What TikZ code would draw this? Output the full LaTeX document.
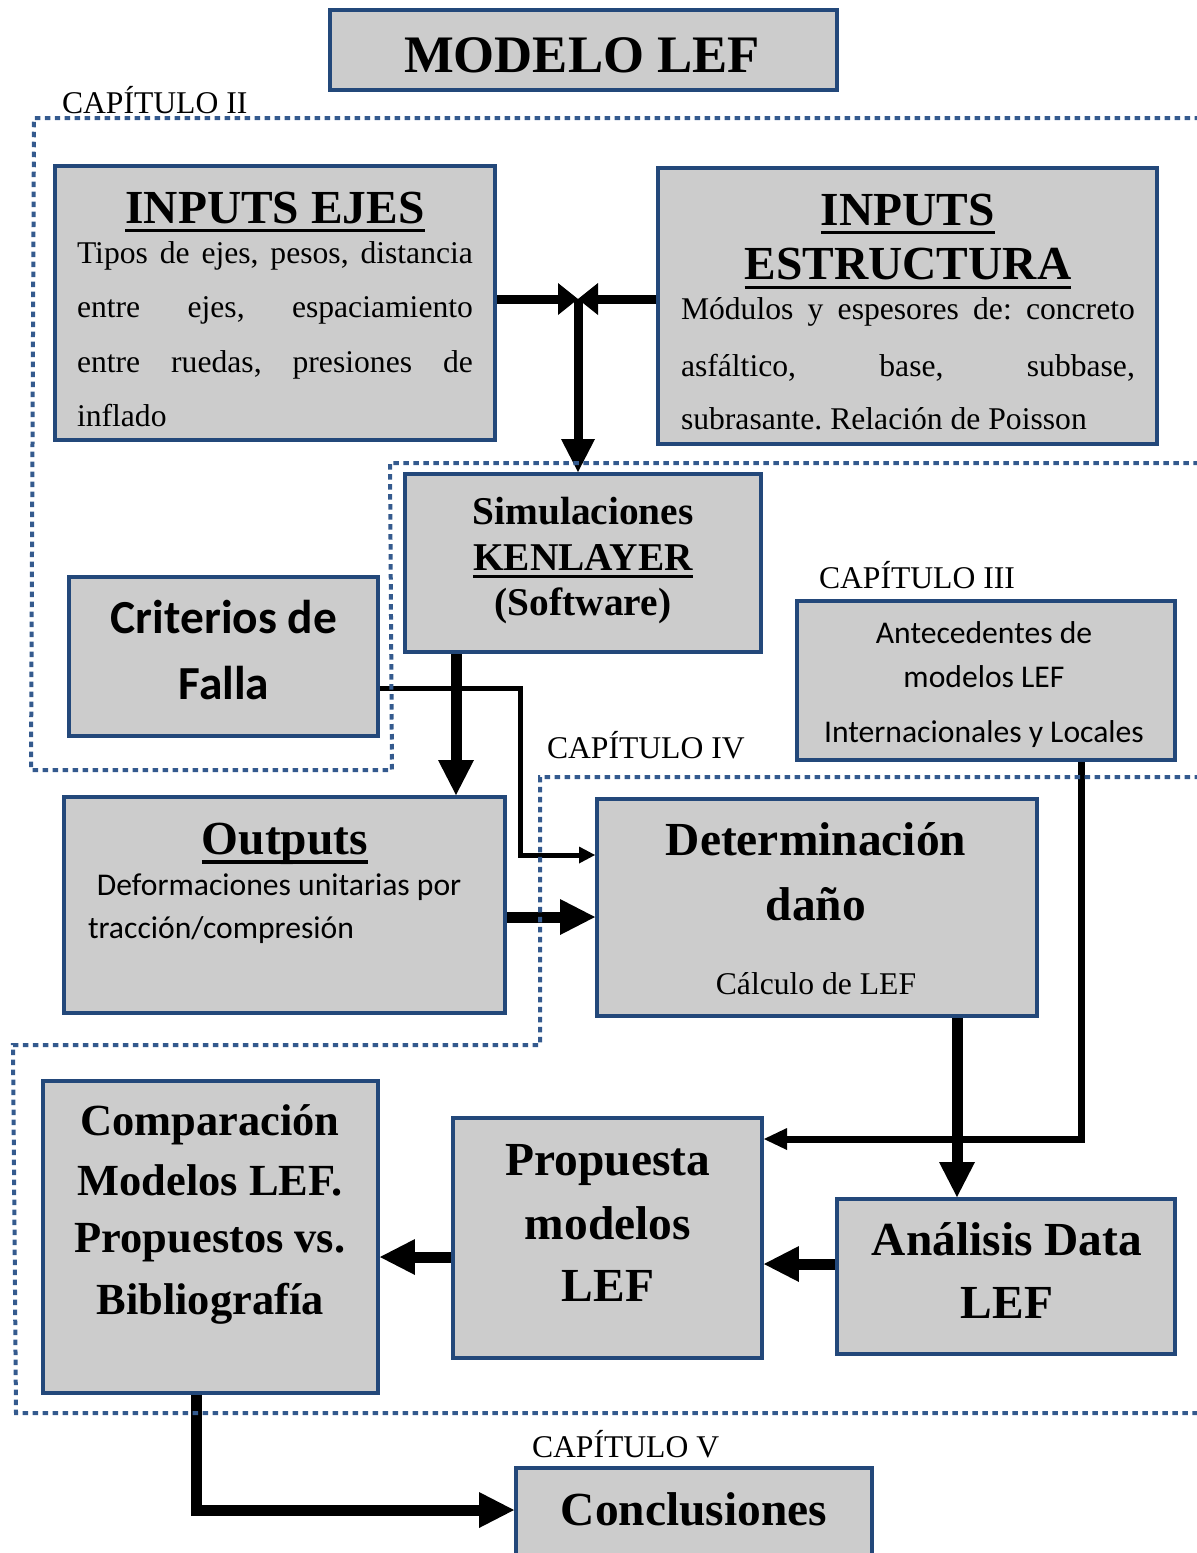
\documentclass[tikz,border=0pt]{standalone}
\usepackage{fontspec}
\setmainfont{Liberation Serif}
\newfontfamily\calfont{Carlito}
\usetikzlibrary{arrows.meta,fit}

\definecolor{boxblue}{RGB}{35,72,122}
\definecolor{boxgray}{RGB}{204,204,204}
\definecolor{dotblue}{RGB}{52,90,142}

% lines of a text block
\newcommand\block[2]{\vtop{\hsize=#1\relax\lineskiplimit=-50pt\relax\frenchspacing#2}}
\newcommand\cen[1]{\hbox to\hsize{\hfil#1\hfil}}
\newcommand\lft[1]{\hbox to\hsize{#1\hfil}}
\newcommand\jus[1]{\hbox to\hsize{#1}}
\newcommand\ulin[1]{\setbox0\hbox{#1}\rlap{\rule[-0.2em]{\wd0}{0.08em}}\box0}

% fonts
\newcommand\fbig{\fontsize{30}{30}\selectfont\bfseries}
\newcommand\fhead{\fontsize{27}{27}\selectfont\bfseries}
\newcommand\fcomp{\fontsize{25.3}{25}\selectfont\bfseries}
\newcommand\fsim{\fontsize{22.4}{22}\selectfont\bfseries}
\newcommand\fbody{\fontsize{18}{18}\selectfont}
\newcommand\fcal{\calfont\fontsize{18}{18}\selectfont}
\newcommand\fcalb{\calfont\fontsize{27}{27}\selectfont\bfseries}

\begin{document}
\begin{tikzpicture}[x=0.02cm, y=-0.02cm,
    box/.style={draw=boxblue, line width=0.08cm, fill=boxgray, inner sep=0pt},
    txt/.style={inner sep=0pt, outer sep=0pt},
    chap/.style={txt, anchor=base west, font=\fbody},
    chapter/.style={draw=dotblue, line width=0.08cm, dash pattern=on 0.11cm off 0.09cm},
    arr/.style n args={3}{line width=#1, line join=miter, -{Triangle[length=#2, width=#3, line width=0pt]}},
    flow/.style={arr={0.22cm}{0.7cm}{0.72cm}},
    feed/.style={arr={0.18cm}{0.66cm}{0.68cm}},
    merge/.style={arr={0.18cm}{0.4cm}{0.64cm}},
    fallink/.style={arr={0.1cm}{0.32cm}{0.34cm}},
    feedback/.style={arr={0.14cm}{0.46cm}{0.44cm}}
]
\useasboundingbox (0,0) rectangle (1197,1553);

% boxes
\node[box, fit={(330,10) (837,90)}] (title) {};
\node[box, fit={(55,166) (495,440)}] (ejes) {};
\node[box, fit={(658,168) (1157,444)}] (estr) {};
\node[box, fit={(405,474) (761,652)}] (sim) {};
\node[box, fit={(69,577) (378,736)}] (crit) {};
\node[box, fit={(797,601) (1175,760)}] (ant) {};
\node[box, fit={(64,797) (505,1013)}] (out) {};
\node[box, fit={(597,799) (1037,1016)}] (det) {};
\node[box, fit={(43,1081) (378,1393)}] (comp) {};
\node[box, fit={(453,1118) (762,1358)}] (prop) {};
\node[box, fit={(837,1199) (1175,1354)}] (ana) {};
\node[box, fit={(516,1468) (872,1600)}] (conc) {};

% texts
\node[txt, anchor=base, font=\fbig] (title-t) at (582,72) {MODELO LEF};
\node[txt, anchor=base west] (ejes-t) at (77,223) {\block{7.92cm}{
  \cen{\fhead\ulin{INPUTS EJES}}
  \baselineskip=0.8cm \jus{\fbody Tipos de ejes, pesos, distancia}
  \baselineskip=1.1cm \jus{\fbody entre ejes, espaciamiento}
  \jus{\fbody entre ruedas, presiones de}
  \baselineskip=1.08cm \lft{\fbody inflado}}};
\node[txt, anchor=base west] (estr-t) at (681,225) {\block{9.08cm}{
  \cen{\fhead\ulin{INPUTS}}
  \baselineskip=1.1cm \cen{\fhead\ulin{ESTRUCTURA}}
  \baselineskip=0.8cm \jus{\fbody Módulos y espesores de: concreto}
  \baselineskip=1.14cm \jus{\fbody asfáltico, base, subbase,}
  \baselineskip=1.06cm \lft{\fbody subrasante. Relación de Poisson}}};
\node[txt, anchor=base] (sim-t) at (583,524) {\block{6.6cm}{
  \cen{\fsim Simulaciones}
  \baselineskip=0.92cm \cen{\fsim\ulin{KENLAYER}}
  \cen{\fsim (Software)}}};
\node[txt, anchor=base] (crit-t) at (224,633) {\block{6cm}{
  \cen{\fcalb Criterios de}
  \baselineskip=1.34cm \cen{\fcalb Falla}}};
\node[txt, anchor=base] (ant-t) at (984,643) {\block{7.4cm}{
  \cen{\fcal Antecedentes de}
  \baselineskip=0.88cm \cen{\fcal modelos LEF}
  \baselineskip=1.12cm \cen{\fcal Internacionales y Locales}}};
\node[txt, anchor=base west] (out-t) at (88,854) {\block{7.88cm}{
  \cen{\fhead\ulin{Outputs}}
  \baselineskip=0.82cm \lft{\fcal\hskip0.18cm Deformaciones unitarias por}
  \baselineskip=0.88cm \lft{\fcal tracción/compresión}}};
\node[txt, anchor=base] (det-t) at (816,855) {\block{8.4cm}{
  \cen{\fhead Determinación}
  \baselineskip=1.3cm \cen{\fhead daño}
  \baselineskip=1.5cm \cen{\fbody Cálculo de LEF}}};
\node[txt, anchor=base] (comp-t) at (210,1135) {\block{6.5cm}{
  \cen{\fcomp Comparación}
  \baselineskip=1.2cm \cen{\fcomp Modelos LEF.}
  \baselineskip=1.16cm \cen{\fcomp Propuestos vs.}
  \baselineskip=1.24cm \cen{\fcomp Bibliografía}}};
\node[txt, anchor=base] (prop-t) at (608,1175) {\block{5.8cm}{
  \cen{\fhead Propuesta}
  \baselineskip=1.28cm \cen{\fhead modelos}
  \baselineskip=1.26cm \cen{\fhead LEF}}};
\node[txt, anchor=base] (ana-t) at (1007,1255) {\block{6.4cm}{
  \cen{\fhead Análisis Data}
  \baselineskip=1.26cm \cen{\fhead LEF}}};
\node[txt, anchor=base, font=\fhead] (conc-t) at (694,1525) {Conclusiones};

% chapter labels
\node[chap] (cap2) at (62,113) {CAPÍTULO II};
\node[chap] (cap3) at (819,588) {CAPÍTULO III};
\node[chap] (cap4) at (547,758) {CAPÍTULO IV};
\node[chap] (cap5) at (532,1457) {CAPÍTULO V};

% connectors
\coordinate (join) at (578,299);
\coordinate (simx) at (456,0);
\coordinate (fally) at (0,688);
\coordinate (bendx) at (520,0);
\coordinate (dety) at (0,855);
\coordinate (outy) at (0,917);
\coordinate (antx) at (1081,0);
\coordinate (anty) at (0,1139);
\coordinate (detx) at (957,0);
\coordinate (anay) at (0,1264);
\coordinate (propy) at (0,1257);
\coordinate (compx) at (196,0);
\coordinate (concy) at (0,1510);

\draw[merge] (ejes.east |- join) -- (join);
\draw[merge] (estr.west |- join) -- (join);
\draw[feed] (join) -- (join |- sim.north);
\draw[flow] (sim.south -| simx) -- (out.north -| simx);
\draw[fallink] (crit.east |- fally) -| (bendx |- dety) -- (det.west |- dety);
\draw[flow] (out.east |- outy) -- (det.west |- outy);
\draw[feedback] (ant.south -| antx) |- (prop.east |- anty);
\draw[flow] (det.south -| detx) -- (ana.north -| detx);
\draw[flow] (ana.west |- anay) -- (prop.east |- anay);
\draw[flow] (prop.west |- propy) -- (comp.east |- propy);
\draw[flow] (comp.south -| compx) |- (conc.west |- concy);

% chapter regions
\draw[chapter] (1200,118) -- (34,118) -- (31,770) -- (392,770) -- (390,463) -- (1200,463);
\draw[chapter] (1200,777) -- (540,777) -- (540,1045) -- (13,1045) -- (16,1413) -- (1200,1413);
\end{tikzpicture}
\end{document}
